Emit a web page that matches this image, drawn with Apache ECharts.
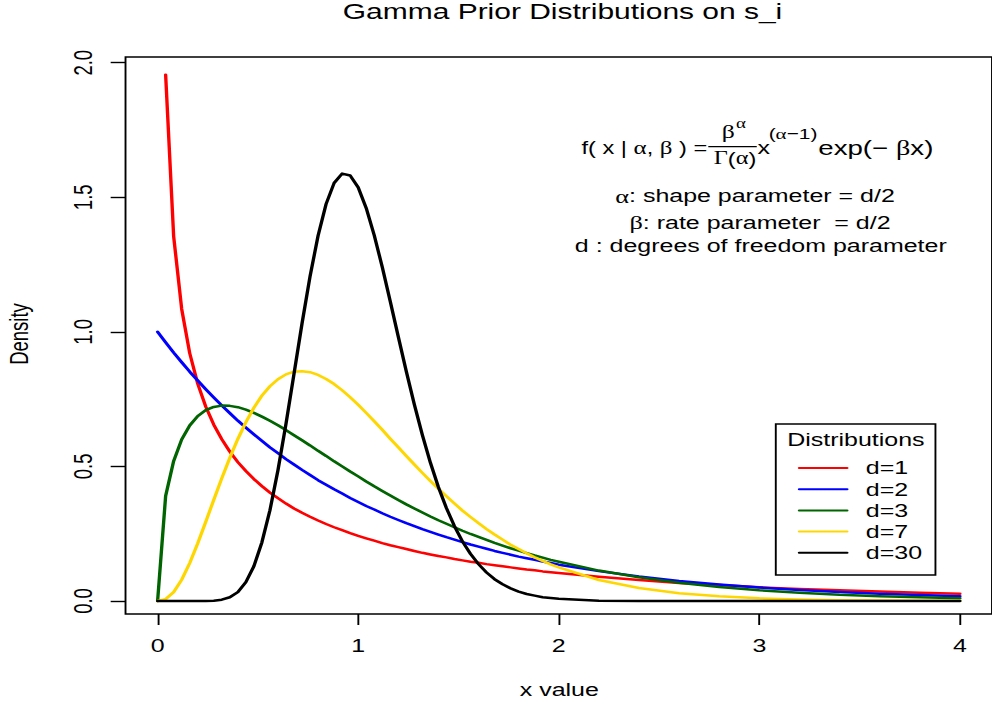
<!DOCTYPE html>
<html>
<head>
<meta charset="utf-8">
<title>Gamma Prior Distributions on s_i</title>
<script src="https://cdn.jsdelivr.net/npm/echarts/dist/echarts.min.js"></script>
<style>
  html, body { margin: 0; padding: 0; background: #fff; overflow: hidden; }
  #stage { width: 992px; height: 704px; overflow: hidden; position: relative; }
  /* the plot is laid out on a 735px canvas and widened to the full page width */
  #chart { width: 735px; height: 704px; transform: scaleX(1.34966); transform-origin: 0 0; }
</style>
</head>
<body>
<div id="stage"><div id="chart"></div></div>
<script>
// x positions where the densities are evaluated
const xs = [0, 0.04, 0.08, 0.12, 0.16, 0.2, 0.24, 0.28, 0.32, 0.36, 0.4, 0.44, 0.48, 0.52, 0.56,
  0.6, 0.64, 0.68, 0.72, 0.76, 0.8, 0.84, 0.88, 0.92, 0.96, 1, 1.04, 1.08, 1.12, 1.16, 1.2,
  1.24, 1.28, 1.32, 1.36, 1.4, 1.44, 1.48, 1.52, 1.56, 1.6, 1.64, 1.68, 1.72, 1.76, 1.8, 1.84,
  1.88, 1.92, 1.96, 2, 2.2, 2.4, 2.6, 2.8, 3, 3.2, 3.4, 3.6, 3.8, 4];

// Gamma(d/2, rate d/2) densities
const densD1 = [null, 1.955, 1.355, 1.085, 0.921, 0.807, 0.722, 0.655, 0.601, 0.555, 0.516, 0.483,
  0.453, 0.427, 0.403, 0.382, 0.362, 0.344, 0.328, 0.313, 0.299, 0.286, 0.274, 0.263, 0.252,
  0.242, 0.233, 0.224, 0.215, 0.207, 0.200, 0.193, 0.186, 0.179, 0.173, 0.167, 0.162, 0.156,
  0.151, 0.146, 0.142, 0.137, 0.133, 0.129, 0.125, 0.121, 0.117, 0.114, 0.110, 0.107, 0.104,
  0.090, 0.078, 0.067, 0.059, 0.051, 0.045, 0.040, 0.035, 0.031, 0.027];
const densD2 = [1, 0.961, 0.923, 0.887, 0.852, 0.819, 0.787, 0.756, 0.726, 0.698, 0.670, 0.644,
  0.619, 0.595, 0.571, 0.549, 0.527, 0.507, 0.487, 0.468, 0.449, 0.432, 0.415, 0.399, 0.383,
  0.368, 0.353, 0.340, 0.326, 0.313, 0.301, 0.289, 0.278, 0.267, 0.257, 0.247, 0.237, 0.228,
  0.219, 0.210, 0.202, 0.194, 0.186, 0.179, 0.172, 0.165, 0.159, 0.153, 0.147, 0.141, 0.135,
  0.111, 0.091, 0.074, 0.061, 0.050, 0.041, 0.033, 0.027, 0.022, 0.018];
const densD3 = [0, 0.390, 0.520, 0.600, 0.652, 0.687, 0.709, 0.721, 0.726, 0.725, 0.720, 0.711,
  0.699, 0.685, 0.670, 0.653, 0.635, 0.616, 0.597, 0.578, 0.558, 0.539, 0.519, 0.500, 0.481,
  0.463, 0.444, 0.426, 0.409, 0.392, 0.375, 0.359, 0.344, 0.329, 0.314, 0.300, 0.287, 0.274,
  0.261, 0.249, 0.238, 0.227, 0.216, 0.206, 0.196, 0.187, 0.178, 0.169, 0.161, 0.153, 0.146,
  0.113, 0.088, 0.068, 0.052, 0.040, 0.031, 0.023, 0.018, 0.014, 0.010];
const densD7 = [0, 0.007, 0.033, 0.079, 0.141, 0.214, 0.294, 0.376, 0.456, 0.532, 0.602, 0.664,
  0.718, 0.763, 0.798, 0.824, 0.842, 0.852, 0.854, 0.850, 0.840, 0.825, 0.806, 0.783, 0.757,
  0.729, 0.699, 0.668, 0.636, 0.603, 0.571, 0.539, 0.507, 0.476, 0.446, 0.417, 0.389, 0.362,
  0.336, 0.312, 0.289, 0.267, 0.247, 0.228, 0.209, 0.193, 0.177, 0.162, 0.149, 0.136, 0.125,
  0.078, 0.048, 0.029, 0.018, 0.010, 0.006, 0.003, 0.002, 0.001, 0.001];
const densD30 = [0, 0, 0, 0, 0, 0, 0.0003, 0.001, 0.005, 0.014, 0.033, 0.070, 0.129, 0.218,
  0.337, 0.486, 0.658, 0.844, 1.031, 1.206, 1.357, 1.475, 1.553, 1.588, 1.581, 1.537, 1.460,
  1.359, 1.241, 1.113, 0.982, 0.853, 0.730, 0.617, 0.514, 0.423, 0.345, 0.278, 0.221, 0.175,
  0.137, 0.106, 0.081, 0.062, 0.047, 0.035, 0.026, 0.020, 0.014, 0.011, 0.008,
  0.001, 0, 0, 0, 0, 0, 0, 0, 0, 0];

const seriesNames = ['d=1', 'd=2', 'd=3', 'd=7', 'd=30'];
const seriesValues = [densD1, densD2, densD3, densD7, densD30];
const seriesColors = ['#ff0000', '#0000ff', '#006400', '#ffd700', '#000000'];

const xTickValues = [0, 1, 2, 3, 4];
const xTickLabels = ['0', '1', '2', '3', '4'];
const yTickValues = [0, 0.5, 1, 1.5, 2];
const yTickLabels = ['0.0', '0.5', '1.0', '1.5', '2.0'];

const FONT = '"Liberation Sans", Arial, Helvetica, sans-serif';
const GREEK = '"Liberation Serif", "DejaVu Serif", serif';
const FS = 18.5;

const chart = echarts.init(document.getElementById('chart'), null,
  { renderer: 'svg', width: 735, height: 704 });

const greek = (size) => ({ g: { fontFamily: GREEK, fontSize: size, fill: '#000' } });

function label(text, x, y, opts) {
  return Object.assign({
    type: 'text', x: x, y: y, silent: true,
    style: Object.assign({
      text: text, fill: '#000', fontFamily: FONT, fontSize: FS,
      align: 'center', verticalAlign: 'middle'
    }, (opts && opts.style) || {})
  }, (opts && opts.el) || {});
}

const graphics = [
  // legend frame and heading
  { type: 'rect', silent: true, shape: { x: 574.8, y: 424, width: 118.3, height: 151 },
    style: { fill: 'none', stroke: '#000', lineWidth: 1.4 } },
  label('Distributions', 634.1, 439.6),
  // titles
  label('Gamma Prior Distributions on s_i', 416.8, 11.5, { style: { fontSize: 22.2 } }),
  label('x value', 414.4, 690),
  label('Density', 14.1, 334, { el: { rotation: Math.PI / 2 } }),
  // density formula
  label('f( x | {g|\u03b1}, {g|\u03b2} ) =', 524.0, 147.5,
    { style: { align: 'right', fontSize: 17.5, rich: greek(18.5) } }),
  { type: 'line', silent: true, shape: { x1: 524.8, y1: 146.7, x2: 560.7, y2: 146.7 },
    style: { stroke: '#000', lineWidth: 1.3 } },
  label('\u03b2', 539.6, 132, { style: { fontFamily: GREEK, fontSize: 19 } }),
  label('\u03b1', 545.4, 123, { style: { fontFamily: GREEK, fontSize: 14, align: 'left' } }),
  label('{g|\u0393}({g|\u03b1})', 544.6, 158.5, { style: { fontSize: 17.5, rich: greek(18) } }),
  label('x', 561.2, 147.5, { style: { align: 'left' } }),
  label('({g|\u03b1}\u22121)', 569.5, 133.5,
    { style: { align: 'left', fontSize: 15.5, rich: greek(15.5) } }),
  label('exp(\u2212\u00a0{g|\u03b2}x)', 606.3, 147.5,
    { style: { align: 'left', fontSize: 20.5, rich: greek(21) } }),
  // parameter notes
  label('{g|\u03b1}: shape parameter = d/2', 559.4, 196, { style: { rich: greek(FS + 1) } }),
  label('{g|\u03b2}: rate parameter \u00a0= d/2', 563.1, 222.5, { style: { rich: greek(FS + 1) } }),
  label('d : degrees of freedom parameter', 563.7, 246)
];

const option = {
  animation: false,
  backgroundColor: '#ffffff',
  // grid frame is the plot box; axis ranges carry the usual 4% padding
  grid: { show: true, left: 93.0, top: 57, width: 645.2, bottom: 90, containLabel: false,
    borderColor: '#000', borderWidth: 1.4, backgroundColor: 'transparent' },
  xAxis: {
    type: 'value', min: -0.16, max: 4.16,
    axisLine: { show: false, onZero: false },
    axisTick: { show: true, inside: false, length: 11, customValues: xTickValues,
      lineStyle: { color: '#000', width: 1.4 } },
    axisLabel: {
      show: true, margin: 22, fontSize: FS, fontFamily: FONT, color: '#000',
      customValues: xTickValues,
      formatter: (v) => xTickLabels[xTickValues.indexOf(v)]
    },
    splitLine: { show: false }
  },
  yAxis: {
    type: 'value', min: -0.0483, max: 2.0212,
    axisLine: { show: false, onZero: false },
    axisTick: { show: true, inside: false, length: 11, customValues: yTickValues,
      lineStyle: { color: '#000', width: 1.4 } },
    axisLabel: {
      show: true, rotate: 90, margin: 21.3, fontSize: FS, fontFamily: FONT, color: '#000',
      customValues: yTickValues,
      formatter: (v) => yTickLabels[yTickValues.indexOf(v)]
    },
    splitLine: { show: false }
  },
  legend: {
    show: true, orient: 'vertical', left: 591.1, top: 458.5, padding: 0,
    itemWidth: 35.6, itemHeight: 18, itemGap: 2.2,
    selectedMode: false,
    data: seriesNames,
    lineStyle: { width: 2 },
    itemStyle: { opacity: 0, borderWidth: 0 },
    textStyle: { fontSize: FS, fontFamily: FONT, color: '#000', padding: [0, 0, 0, 8.8], lineHeight: 18 }
  },
  series: seriesNames.map((name, s) => ({
    name: name,
    type: 'line',
    symbol: 'none',
    showSymbol: false,
    smooth: false,
    connectNulls: false,
    silent: true,
    lineStyle: { color: seriesColors[s], width: 2.5, join: 'round', cap: 'round' },
    itemStyle: { color: seriesColors[s] },
    data: xs.map((x, i) => [x, seriesValues[s][i]])
  })),
  graphic: graphics
};

chart.setOption(option);
</script>
</body>
</html>
